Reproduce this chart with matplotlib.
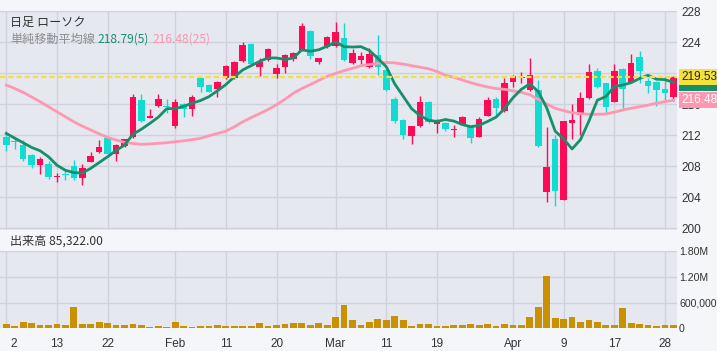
#!/usr/bin/env python3
"""Daily candlestick chart with 5/25 day moving averages and volume."""
import numpy as np
import pandas as pd
import matplotlib
matplotlib.use("Agg")
import matplotlib.pyplot as plt
from matplotlib.transforms import ScaledTranslation, blended_transform_factory

# ---- data ----
holidays = ["2025-01-09", "2025-01-20", "2025-02-17", "2025-04-18"]
dates = pd.bdate_range("2025-01-02", "2025-04-29")
dates = dates[~dates.isin(pd.to_datetime(holidays))]

opens = [211.7, 211.2, 210.7, 209.4, 208.1, 208.3, 206.6, 207.0, 208.0, 206.4,
         208.5, 209.8, 211.6, 209.6, 210.6, 211.7, 216.5, 214.2, 215.75, 215.7,
         213.1, 216.0, 215.4, 219.4, 218.4, 218.0, 219.3, 219.35, 221.6, 223.8,
         220.8, 221.7, 219.9, 220.8, 221.85, 222.9, 225.4, 221.4, 223.3, 223.45,
         224.5, 221.25, 221.7, 220.8, 222.3, 220.4, 216.65, 213.95, 211.9, 213.1,
         216.3, 213.4, 213.6, 212.65, 213.4, 213.1, 211.8, 214.45, 216.65, 215.15,
         218.9, 219.35, 217.8, 217.8, 204.7, 211.45, 203.6, 213.6, 214.6, 216.75,
         220.25, 218.65, 216.3, 220.5, 218.9, 222.1, 218.95, 218.9, 218.0, 216.9]
highs = [212.55, 211.6, 211.3, 209.6, 209.1, 208.6, 207.1, 207.3, 208.8, 208.3,
         209.8, 211.35, 211.7, 210.8, 211.5, 217.25, 217.25, 215.4, 217.3, 216.6,
         216.7, 216.1, 217.1, 219.5, 218.6, 219.0, 221.0, 221.5, 223.95, 223.85,
         222.0, 223.2, 221.2, 222.45, 222.7, 226.45, 225.5, 222.0, 224.8, 226.6,
         226.4, 223.05, 222.75, 223.2, 224.9, 220.5, 216.95, 214.05, 213.15, 217.0,
         216.35, 214.05, 213.7, 213.3, 214.45, 213.15, 214.35, 216.95, 216.95, 219.3,
         219.7, 220.15, 222.0, 219.1, 213.0, 212.0, 213.85, 216.0, 217.6, 221.1,
         220.7, 218.75, 221.15, 220.7, 222.45, 222.85, 219.3, 219.0, 219.5, 219.6]
lows = [210.0, 210.2, 208.6, 207.8, 207.0, 206.3, 205.9, 206.2, 206.2, 205.6,
        208.5, 209.7, 209.5, 208.6, 210.4, 211.6, 213.7, 214.2, 215.65, 214.8,
        212.9, 214.3, 214.5, 217.5, 217.5, 216.9, 219.2, 219.2, 221.4, 221.0,
        219.6, 221.5, 219.35, 220.0, 221.5, 222.8, 221.8, 221.1, 223.2, 223.35,
        221.5, 221.2, 221.15, 220.7, 219.75, 217.7, 213.6, 211.5, 210.9, 213.0,
        213.6, 212.3, 212.5, 211.7, 213.3, 211.0, 211.7, 214.4, 214.6, 215.0,
        218.15, 218.7, 217.7, 210.4, 203.4, 202.9, 203.6, 211.5, 212.0, 216.7,
        218.1, 214.9, 216.2, 215.35, 218.8, 218.7, 217.4, 215.75, 216.2, 216.45]
closes = [210.7, 211.1, 208.9, 208.1, 208.9, 206.6, 206.7, 206.9, 206.5, 207.8,
          209.3, 210.4, 209.6, 210.7, 211.5, 216.9, 213.85, 214.4, 216.7, 215.6,
          216.3, 215.35, 216.9, 218.2, 217.6, 218.8, 220.9, 221.4, 223.65, 221.2,
          221.4, 223.1, 220.65, 222.3, 222.6, 226.1, 222.2, 221.95, 224.7, 225.3,
          221.7, 222.55, 222.2, 222.45, 220.8, 217.8, 213.85, 212.0, 213.1, 216.3,
          213.7, 213.7, 212.8, 212.75, 214.3, 211.6, 214.05, 216.5, 215.45, 218.75,
          219.6, 219.45, 219.75, 210.6, 207.9, 204.8, 213.8, 213.9, 216.8, 220.15,
          218.15, 215.65, 220.25, 217.9, 221.25, 220.3, 218.35, 217.8, 217.45, 219.53]
ma5 = [212.2, 211.6, 211.0, 210.4, 209.97, 209.2, 208.1, 207.45, 207.15, 207.1,
       207.7, 208.45, 209.2, 210.0, 210.7, 212.1, 212.75, 213.5, 214.3, 215.4,
       215.4, 215.7, 216.1, 216.45, 216.95, 217.7, 218.5, 219.5, 220.4, 220.95,
       221.5, 221.95, 221.94, 221.75, 221.94, 223.0, 222.8, 223.0, 223.45, 224.0,
       223.4, 223.35, 223.4, 222.9, 221.9, 220.8, 218.6, 217.0, 215.4, 214.5,
       213.9, 213.75, 214.0, 213.8, 213.35, 213.07, 213.25, 213.75, 214.3, 215.4,
       216.8, 217.9, 218.6, 217.6, 215.5, 212.5, 211.5, 210.2, 211.4, 213.8,
       216.5, 216.95, 218.25, 218.45, 218.75, 219.3, 219.7, 219.2, 219.15, 218.79]
ma25 = [218.45, 218.0, 217.5, 216.9, 216.3, 215.65, 215.0, 214.35, 213.7, 213.15,
        212.65, 212.15, 211.7, 211.35, 211.06, 210.9, 210.8, 210.85, 210.93, 211.0,
        211.14, 211.25, 211.4, 211.57, 211.9, 212.2, 212.5, 213.05, 213.7, 214.25,
        214.75, 215.3, 215.9, 216.6, 217.4, 218.0, 218.5, 219.05, 219.57, 219.95,
        220.3, 220.6, 220.95, 221.1, 221.25, 221.35, 221.3, 221.15, 220.95, 220.75,
        220.55, 220.2, 219.7, 219.45, 219.1, 218.75, 218.45, 218.2, 218.0, 217.9,
        217.7, 217.5, 217.2, 216.6, 216.0, 215.45, 215.15, 214.88, 214.75, 214.67,
        214.68, 214.71, 214.95, 215.23, 215.45, 215.65, 215.85, 216.1, 216.3, 216.48]
volumes = [101000, 54000, 147000, 124000, 77000, 77000, 101000, 77000, 496000, 101000,
           101000, 147000, 124000, 77000, 77000, 101000, 77000, 40000, 54000, 40000,
           147000, 54000, 40000, 54000, 54000, 77000, 54000, 54000, 54000, 54000,
           124000, 54000, 77000, 101000, 124000, 124000, 77000, 124000, 77000, 264000,
           543000, 194000, 77000, 147000, 217000, 194000, 287000, 194000, 54000, 101000,
           101000, 54000, 54000, 77000, 77000, 101000, 77000, 101000, 54000, 101000,
           77000, 77000, 264000, 496000, 1217000, 240000, 217000, 264000, 147000, 194000,
           147000, 77000, 77000, 473000, 124000, 101000, 77000, 54000, 77000, 85322]

tick_dates = ["2025-01-02", "2025-01-13", "2025-01-22", "2025-02-03", "2025-02-11",
              "2025-02-20", "2025-03-03", "2025-03-11", "2025-03-19", "2025-04-01",
              "2025-04-09", "2025-04-17", "2025-04-28"]
tick_labels = ["2", "13", "22", "Feb", "11", "20", "Mar", "11", "19", "Apr", "9", "17", "28"]
price_ticks = [200, 204, 208, 212, 216, 220, 224, 228]
vol_ticks = [0, 600000, 1200000, 1800000]
vol_labels = ["0", "600,000", "1.20M", "1.80M"]

# ---- styling ----
W, H = 717, 351
BG = "#f5f6f9"
PLOT_BG = "#e6e8f0"
GRID = "#cfd1dd"
UP = "#ff0a54"
DOWN = "#12dbd2"
MA5_C = "#15906b"
MA25_C = "#ff97b0"
LAST_C = "#f5e13c"
VOL_C = "#c99000"
JP = ["Noto Sans CJK JP", "DejaVu Sans"]
AX_FONT = "Liberation Sans"


def px_rect(x0, y0, x1, y1):
    return [x0 / W, 1 - y1 / H, (x1 - x0) / W, (y1 - y0) / H]


def main():
    o = np.array(opens); h = np.array(highs); l = np.array(lows); c = np.array(closes)
    idx = np.arange(len(dates))
    tick_idx = [dates.get_loc(pd.Timestamp(d)) for d in tick_dates]
    colors = np.where(c >= o, UP, DOWN)

    fig = plt.figure(figsize=(W / 100, H / 100), dpi=100, facecolor=BG)
    ax_p = fig.add_axes(px_rect(0, 11, 677, 229.5))
    ax_v = fig.add_axes(px_rect(0, 250.7, 677, 328.4), sharex=ax_p)

    # step between candles in pixels -> x limits
    step = 8.444
    xlim = (-6.3 / step, (677 - 6.3) / step)

    for ax in (ax_p, ax_v):
        ax.set_facecolor(PLOT_BG)
        for s in ax.spines.values():
            s.set_visible(False)
        ax.set_axisbelow(True)
        ax.grid(True, color=GRID, lw=1)
        ax.yaxis.tick_right()
        ax.tick_params(length=0, labelsize=8.5, labelcolor="#333333")
        ax.set_xlim(*xlim)

    # candles
    ax_p.vlines(idx, l, h, colors=colors, lw=1, zorder=2)
    body_lo = np.minimum(o, c)
    body_h = np.maximum(np.abs(c - o), 0.12)
    ax_p.bar(idx, body_h, bottom=body_lo, width=0.78, color=colors, zorder=3)

    ax_p.plot(idx, ma25, color=MA25_C, lw=2, zorder=4)
    ax_p.plot(idx, ma5, color=MA5_C, lw=2, zorder=5)
    ax_p.axhline(closes[-1], color=LAST_C, lw=1.6, dashes=(2.4, 1.3), zorder=6)

    ax_p.set_ylim(199.81, 228)
    ax_p.set_yticks(price_ticks)
    # the 220 label sits fully under the last-price box, so it is left blank
    ax_p.set_yticklabels(["" if t == 220 else str(t) for t in price_ticks],
                         fontfamily=AX_FONT)
    ax_p.tick_params(axis="x", labelbottom=False)
    ax_p.tick_params(axis="y", pad=3)

    # value boxes on the price scale
    tr = blended_transform_factory(ax_p.transAxes, ax_p.transData)
    x_box = 1 + 4 / 677
    for val, fc, tc, z in [(ma5[-1], MA5_C, "white", 7), (ma25[-1], MA25_C, "white", 8),
                           (closes[-1], LAST_C, "#222222", 9)]:
        ax_p.text(x_box, val, f"{val:.2f}", transform=tr, ha="left", va="center",
                  fontsize=8.5, fontfamily=AX_FONT, color=tc, zorder=z, clip_on=False,
                  bbox=dict(boxstyle="square,pad=0.18", fc=fc, ec="none"))

    # volume
    ax_v.bar(idx, volumes, width=0.8, color=VOL_C, zorder=3)
    ax_v.set_ylim(0, 1800000)
    ax_v.set_yticks(vol_ticks)
    ax_v.set_yticklabels(vol_labels, fontfamily=AX_FONT, fontsize=7.6)
    ax_v.tick_params(axis="y", pad=1.5)
    ax_v.set_xticks(tick_idx)
    ax_v.set_xticklabels(tick_labels, fontfamily=AX_FONT)
    ax_v.tick_params(axis="x", pad=7)
    first = ax_v.get_xticklabels()[0]
    first.set_transform(first.get_transform() + ScaledTranslation(0.075, 0, fig.dpi_scale_trans))

    # header texts
    def ftext(x, y, s, color, **kw):
        fig.text(x / W, 1 - y / H, s, color=color, fontsize=8.7, family=JP,
                 ha="left", va="center", **kw)

    ftext(10, 22.5, "日足 ローソク", "#333333")
    ftext(10, 39.5, "単純移動平均線", "#8c8c8c")
    ftext(97, 39.5, f"{ma5[-1]:.2f}(5)", "#1a9070")
    ftext(152, 39.5, f"{ma25[-1]:.2f}(25)", "#f797b0")
    ftext(10, 241, f"出来高 {volumes[-1]:,.2f}", "#333333")

    fig.savefig("out.png", dpi=100, facecolor=BG)


if __name__ == "__main__":
    main()
